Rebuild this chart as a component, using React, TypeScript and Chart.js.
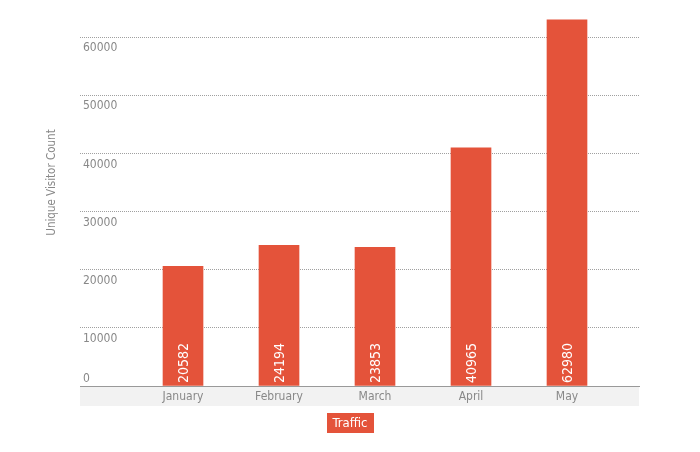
import React, { useEffect, useRef } from 'react';
import { Chart, registerables } from 'chart.js';

Chart.register(...registerables);

const categories = ['January', 'February', 'March', 'April', 'May'];
const visitors = [20582, 24194, 23853, 40965, 62980];
const yTickValues = [0, 10000, 20000, 30000, 40000, 50000, 60000];
const seriesLabel = 'Traffic';
const yTitle = 'Unique Visitor Count';

const FONT = '"DejaVu Sans Condensed", sans-serif';
const BAR = '#E4533A';
const GRAY_TEXT = '#888888';

const bandPlugin = {
  id: 'band',
  beforeDraw(chart: any) {
    const { ctx, chartArea } = chart;
    ctx.save();
    ctx.fillStyle = '#f2f2f2';
    ctx.fillRect(chartArea.left, chartArea.bottom, chartArea.right - chartArea.left, 20);
    ctx.restore();
  },
};

const yLabelPlugin = {
  id: 'yLabels',
  afterDraw(chart: any) {
    const { ctx, chartArea, scales } = chart;
    const y = scales.y;
    ctx.save();
    ctx.fillStyle = GRAY_TEXT;
    ctx.font = `12px ${FONT}`;
    ctx.textAlign = 'left';
    ctx.textBaseline = 'middle';
    yTickValues.forEach((v) => {
      const px = y.getPixelForValue(v);
      const ty = v === 0 ? px - 7 : px + 11;
      ctx.fillText(String(v), chartArea.left + 3, ty);
    });
    ctx.restore();
  },
};

const valueLabelPlugin = {
  id: 'valueLabels',
  afterDatasetsDraw(chart: any) {
    const { ctx, chartArea } = chart;
    const meta = chart.getDatasetMeta(0);
    ctx.save();
    ctx.fillStyle = '#ffffff';
    ctx.font = `14px ${FONT}`;
    ctx.textAlign = 'left';
    ctx.textBaseline = 'middle';
    meta.data.forEach((bar: any, i: number) => {
      ctx.save();
      ctx.translate(bar.x + 1, chartArea.bottom - 3);
      ctx.rotate(-Math.PI / 2);
      ctx.fillText(String(visitors[i]), 0, 0);
      ctx.restore();
    });
    ctx.restore();
  },
};

const legendPlugin = {
  id: 'boxLegend',
  afterDraw(chart: any) {
    const { ctx, width } = chart;
    const ds = chart.data.datasets[0];
    ctx.save();
    ctx.font = `13px ${FONT}`;
    const tw = ctx.measureText(ds.label).width;
    const w = tw + 12;
    const h = 20;
    const cx = width / 2;
    const cy = 444;
    ctx.fillStyle = ds.backgroundColor;
    ctx.fillRect(Math.round(cx - w / 2), cy - h / 2, Math.round(w), h);
    ctx.fillStyle = '#ffffff';
    ctx.textAlign = 'center';
    ctx.textBaseline = 'middle';
    ctx.fillText(ds.label, cx, cy + 1);
    ctx.restore();
  },
};

export default function App() {
  const ref = useRef<HTMLCanvasElement>(null);

  useEffect(() => {
    if (!ref.current) return;
    const chart = new Chart(ref.current, {
      type: 'bar',
      data: {
        datasets: [
          {
            label: seriesLabel,
            data: visitors.map((v, i) => ({ x: i, y: v })),
            backgroundColor: BAR,
            borderWidth: 0,
            barThickness: 40,
          },
        ],
      },
      options: {
        responsive: false,
        animation: false,
        layout: { padding: { left: 0, right: 61, top: 0, bottom: 46 } },
        plugins: {
          legend: { display: false },
          tooltip: { enabled: false },
        },
        scales: {
          x: {
            type: 'linear',
            offset: false,
            grace: 0,
            min: -1.073,
            max: 4.75,
            grid: { display: false, drawTicks: false, offset: false },
            border: { display: true, color: '#999999', width: 1 },
            afterBuildTicks: (s: any) => {
              s.ticks = categories.map((_, i) => ({ value: i }));
            },
            afterFit: (s: any) => {
              s.height = 20;
            },
            ticks: {
              autoSkip: false,
              maxRotation: 0,
              padding: 4,
              color: GRAY_TEXT,
              font: { family: FONT, size: 12 },
              callback: (v: any) => categories[v] ?? '',
            },
          },
          y: {
            min: 0,
            max: 70000,
            grid: { color: '#a0a0a0', lineWidth: 1, drawTicks: false },
            border: { display: false, dash: [1, 1] },
            ticks: { display: false, stepSize: 10000 },
            title: {
              display: true,
              text: yTitle,
              color: GRAY_TEXT,
              font: { family: FONT, size: 11.5 },
              padding: { top: 45, bottom: 0 },
            },
            afterFit: (s: any) => {
              s.width = 80;
            },
          },
        },
      },
      plugins: [bandPlugin, yLabelPlugin, valueLabelPlugin, legendPlugin],
    } as any);
    return () => chart.destroy();
  }, []);

  return (
    <div style={{ position: 'absolute', left: 0, top: -21, width: 700, height: 473 }}>
      <canvas ref={ref} width={700} height={473} />
    </div>
  );
}
